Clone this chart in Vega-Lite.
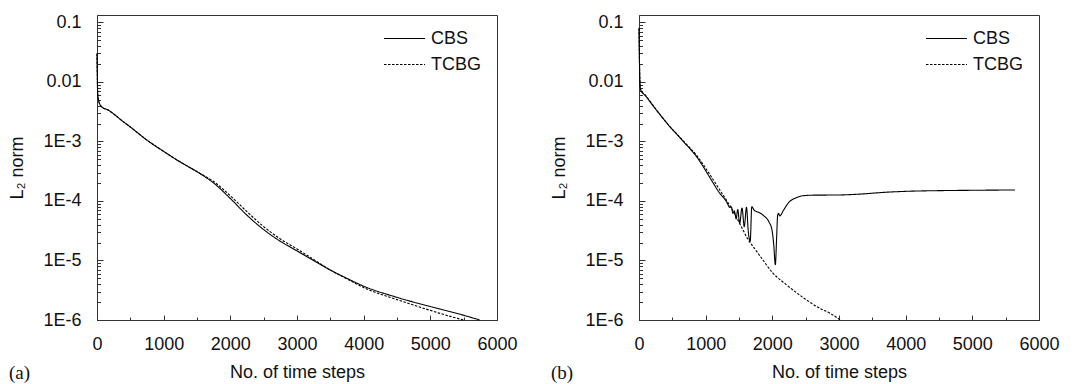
{
  "$schema": "https://vega.github.io/schema/vega-lite/v6.json",
  "padding": {"left": 8, "top": 12, "right": 5, "bottom": 2},
  "background": "white",
  "config": {
    "view": {"stroke": "#333", "strokeWidth": 1},
    "font": "Liberation Sans",
    "axis": {
      "grid": false,
      "domainColor": "#333",
      "tickColor": "#333",
      "ticks": true,
      "labelColor": "#111",
      "titleColor": "#111",
      "labelFont": "Liberation Sans",
      "titleFont": "Liberation Sans",
      "labelFontSize": 18,
      "titleFontSize": 18,
      "titleFontWeight": "normal",
      "labelOverlap": false,
      "labelFlush": false
    },
    "title": {"font": "Liberation Serif", "fontSize": 19, "fontWeight": "normal", "color": "#111"}
  },
  "datasets": {
    "a": [
      {"t": 0, "v": 0.03, "method": "CBS"}, {"t": 5, "v": 0.012, "method": "CBS"}, {"t": 10, "v": 0.0065, "method": "CBS"},
      {"t": 35, "v": 0.0044, "method": "CBS"}, {"t": 85, "v": 0.0037, "method": "CBS"}, {"t": 160, "v": 0.0034, "method": "CBS"},
      {"t": 250, "v": 0.0029, "method": "CBS"}, {"t": 360, "v": 0.0023, "method": "CBS"}, {"t": 500, "v": 0.00175, "method": "CBS"},
      {"t": 750, "v": 0.00105, "method": "CBS"}, {"t": 1000, "v": 0.00068, "method": "CBS"}, {"t": 1250, "v": 0.00045, "method": "CBS"},
      {"t": 1500, "v": 0.00031, "method": "CBS"}, {"t": 1750, "v": 0.0002, "method": "CBS"}, {"t": 2000, "v": 0.00011, "method": "CBS"},
      {"t": 2250, "v": 0.0000575, "method": "CBS"}, {"t": 2500, "v": 0.000033, "method": "CBS"}, {"t": 2750, "v": 0.000021, "method": "CBS"},
      {"t": 3000, "v": 0.0000145, "method": "CBS"}, {"t": 3250, "v": 0.00001, "method": "CBS"}, {"t": 3500, "v": 0.0000069, "method": "CBS"},
      {"t": 3750, "v": 0.000005, "method": "CBS"}, {"t": 4000, "v": 0.0000037, "method": "CBS"}, {"t": 4500, "v": 0.0000024, "method": "CBS"},
      {"t": 5000, "v": 0.00000168, "method": "CBS"}, {"t": 5500, "v": 0.0000012, "method": "CBS"}, {"t": 5740, "v": 0.000001, "method": "CBS"},
      {"t": 0, "v": 0.03, "method": "TCBG"}, {"t": 5, "v": 0.012, "method": "TCBG"}, {"t": 10, "v": 0.0065, "method": "TCBG"},
      {"t": 35, "v": 0.0044, "method": "TCBG"}, {"t": 85, "v": 0.0037, "method": "TCBG"}, {"t": 160, "v": 0.0034, "method": "TCBG"},
      {"t": 250, "v": 0.0029, "method": "TCBG"}, {"t": 360, "v": 0.0023, "method": "TCBG"}, {"t": 500, "v": 0.00175, "method": "TCBG"},
      {"t": 750, "v": 0.00105, "method": "TCBG"}, {"t": 1000, "v": 0.00068, "method": "TCBG"}, {"t": 1250, "v": 0.00045, "method": "TCBG"},
      {"t": 1500, "v": 0.00031, "method": "TCBG"}, {"t": 1750, "v": 0.000212, "method": "TCBG"}, {"t": 2000, "v": 0.000122, "method": "TCBG"},
      {"t": 2250, "v": 0.000066, "method": "TCBG"}, {"t": 2500, "v": 0.000037, "method": "TCBG"}, {"t": 2750, "v": 0.000023, "method": "TCBG"},
      {"t": 3000, "v": 0.0000156, "method": "TCBG"}, {"t": 3250, "v": 0.0000104, "method": "TCBG"}, {"t": 3500, "v": 0.0000069, "method": "TCBG"},
      {"t": 3750, "v": 0.0000049, "method": "TCBG"}, {"t": 4000, "v": 0.0000035, "method": "TCBG"}, {"t": 4500, "v": 0.0000022, "method": "TCBG"},
      {"t": 5000, "v": 0.00000145, "method": "TCBG"}, {"t": 5300, "v": 0.00000115, "method": "TCBG"}, {"t": 5500, "v": 0.000001, "method": "TCBG"}
    ],
    "b": [
      {"t": 0, "v": 0.08, "method": "CBS"}, {"t": 5, "v": 0.03, "method": "CBS"}, {"t": 15, "v": 0.0095, "method": "CBS"},
      {"t": 25, "v": 0.0073, "method": "CBS"}, {"t": 100, "v": 0.0058, "method": "CBS"}, {"t": 224, "v": 0.0038, "method": "CBS"},
      {"t": 423, "v": 0.002, "method": "CBS"}, {"t": 672, "v": 0.00098, "method": "CBS"}, {"t": 871, "v": 0.00054, "method": "CBS"},
      {"t": 1070, "v": 0.00024, "method": "CBS"}, {"t": 1200, "v": 0.00014, "method": "CBS"}, {"t": 1318, "v": 0.000095, "method": "CBS"},
      {"t": 1360, "v": 0.000078, "method": "CBS"}, {"t": 1385, "v": 0.00008, "method": "CBS"}, {"t": 1408, "v": 0.000062, "method": "CBS"},
      {"t": 1430, "v": 0.000068, "method": "CBS"}, {"t": 1457, "v": 0.00005, "method": "CBS"}, {"t": 1481, "v": 0.000072, "method": "CBS"},
      {"t": 1510, "v": 0.000042, "method": "CBS"}, {"t": 1545, "v": 0.000076, "method": "CBS"}, {"t": 1579, "v": 0.000037, "method": "CBS"},
      {"t": 1612, "v": 0.000078, "method": "CBS"}, {"t": 1640, "v": 0.00003, "method": "CBS"}, {"t": 1668, "v": 0.000021, "method": "CBS"},
      {"t": 1692, "v": 0.00008, "method": "CBS"}, {"t": 1727, "v": 0.00007, "method": "CBS"}, {"t": 1800, "v": 0.000064, "method": "CBS"},
      {"t": 1874, "v": 0.000056, "method": "CBS"}, {"t": 1947, "v": 0.000045, "method": "CBS"}, {"t": 1996, "v": 0.000032, "method": "CBS"},
      {"t": 2020, "v": 0.000019, "method": "CBS"}, {"t": 2045, "v": 0.0000085, "method": "CBS"}, {"t": 2065, "v": 0.000025, "method": "CBS"},
      {"t": 2080, "v": 0.000058, "method": "CBS"}, {"t": 2095, "v": 0.000062, "method": "CBS"}, {"t": 2110, "v": 0.000056, "method": "CBS"},
      {"t": 2168, "v": 0.00007, "method": "CBS"}, {"t": 2241, "v": 0.000093, "method": "CBS"}, {"t": 2350, "v": 0.000112, "method": "CBS"},
      {"t": 2450, "v": 0.000122, "method": "CBS"}, {"t": 2600, "v": 0.000125, "method": "CBS"}, {"t": 3000, "v": 0.000126, "method": "CBS"},
      {"t": 3300, "v": 0.00013, "method": "CBS"}, {"t": 3700, "v": 0.00014, "method": "CBS"}, {"t": 4000, "v": 0.000145, "method": "CBS"},
      {"t": 4500, "v": 0.000149, "method": "CBS"}, {"t": 5000, "v": 0.000151, "method": "CBS"}, {"t": 5640, "v": 0.000153, "method": "CBS"},
      {"t": 0, "v": 0.08, "method": "TCBG"}, {"t": 5, "v": 0.03, "method": "TCBG"}, {"t": 15, "v": 0.0095, "method": "TCBG"},
      {"t": 25, "v": 0.0075, "method": "TCBG"}, {"t": 100, "v": 0.0059, "method": "TCBG"}, {"t": 224, "v": 0.00385, "method": "TCBG"},
      {"t": 423, "v": 0.002, "method": "TCBG"}, {"t": 672, "v": 0.001, "method": "TCBG"}, {"t": 871, "v": 0.00057, "method": "TCBG"},
      {"t": 1070, "v": 0.00027, "method": "TCBG"}, {"t": 1200, "v": 0.00016, "method": "TCBG"}, {"t": 1318, "v": 0.0001, "method": "TCBG"},
      {"t": 1420, "v": 0.000065, "method": "TCBG"}, {"t": 1530, "v": 0.000038, "method": "TCBG"}, {"t": 1632, "v": 0.000023, "method": "TCBG"},
      {"t": 1750, "v": 0.000015, "method": "TCBG"}, {"t": 1850, "v": 0.0000105, "method": "TCBG"}, {"t": 2005, "v": 0.0000062, "method": "TCBG"},
      {"t": 2200, "v": 0.000004, "method": "TCBG"}, {"t": 2481, "v": 0.0000023, "method": "TCBG"}, {"t": 2700, "v": 0.0000016, "method": "TCBG"},
      {"t": 2865, "v": 0.0000013, "method": "TCBG"}, {"t": 3020, "v": 0.000001, "method": "TCBG"}
    ]
  },
  "spacing": 142,
  "bounds": "flush",
  "resolve": {"scale": {"strokeDash": "independent"}, "legend": {"strokeDash": "independent"}},
  "hconcat": [
    {
      "width": 400,
      "height": 305,
      "data": {"name": "a"},
      "title": {"text": "(a)", "orient": "bottom", "anchor": "start", "frame": "bounds", "offset": -17},
      "mark": {"type": "line", "color": "#000", "strokeWidth": 1.1, "interpolate": "monotone"},
      "encoding": {
        "x": {"field": "t", "type": "quantitative", "scale": {"domain": [0, 6000], "nice": false},
          "axis": {"title": "No. of time steps", "values": [0,500,1000,1500,2000,2500,3000,3500,4000,4500,5000,5500,6000], "format": "d",
            "labelExpr": "datum.value % 1000 == 0 ? datum.label : ''",
            "tickSize": {"condition": {"test": "datum.value % 1000 == 0", "value": -5}, "value": -3},
            "labelPadding": 20, "titlePadding": 8}},
        "y": {"field": "v", "type": "quantitative", "scale": {"type": "log", "domain": [0.000001, 0.133], "nice": false},
          "axis": {"title": "L₂ norm",
            "values": [0.000001,0.000002,0.000003,0.000004,0.000005,0.000006,0.000007,0.000008,0.000009,0.00001,0.00002,0.00003,0.00004,0.00005,0.00006,0.00007,0.00008,0.00009,0.0001,0.0002,0.0003,0.0004,0.0005,0.0006,0.0007,0.0008,0.0009,0.001,0.002,0.003,0.004,0.005,0.006,0.007,0.008,0.009,0.01,0.02,0.03,0.04,0.05,0.06,0.07,0.08,0.09,0.1],
            "labelExpr": "abs(log(datum.value)/LN10 - round(log(datum.value)/LN10)) < 0.000001 ? (datum.value > 0.005 ? '' + datum.value : '1E' + round(log(datum.value)/LN10)) : ''",
            "tickSize": {"condition": {"test": "abs(log(datum.value)/LN10 - round(log(datum.value)/LN10)) < 0.000001", "value": -6}, "value": -3.5},
            "labelPadding": 22, "titlePadding": 16}},
        "strokeDash": {"field": "method", "type": "nominal",
          "scale": {"domain": ["CBS", "TCBG"], "range": [[1, 0], [2.5, 1.5]]},
          "legend": {"title": null, "orient": "top-right", "offset": 15, "padding": 0, "symbolType": "stroke", "symbolSize": 1681,
            "symbolStrokeWidth": 1.1, "symbolStrokeColor": "#000", "labelFontSize": 18, "labelFont": "Liberation Sans", "labelColor": "#111",
            "labelOffset": 5, "clipHeight": 17, "rowPadding": 7}}
      }
    },
    {
      "width": 400,
      "height": 305,
      "data": {"name": "b"},
      "title": {"text": "(b)", "orient": "bottom", "anchor": "start", "frame": "bounds", "offset": -17},
      "mark": {"type": "line", "color": "#000", "strokeWidth": 1.1, "interpolate": "monotone"},
      "encoding": {
        "x": {"field": "t", "type": "quantitative", "scale": {"domain": [0, 6000], "nice": false},
          "axis": {"title": "No. of time steps", "values": [0,500,1000,1500,2000,2500,3000,3500,4000,4500,5000,5500,6000], "format": "d",
            "labelExpr": "datum.value % 1000 == 0 ? datum.label : ''",
            "tickSize": {"condition": {"test": "datum.value % 1000 == 0", "value": -5}, "value": -3},
            "labelPadding": 20, "titlePadding": 8}},
        "y": {"field": "v", "type": "quantitative", "scale": {"type": "log", "domain": [0.000001, 0.133], "nice": false},
          "axis": {"title": "L₂ norm",
            "values": [0.000001,0.000002,0.000003,0.000004,0.000005,0.000006,0.000007,0.000008,0.000009,0.00001,0.00002,0.00003,0.00004,0.00005,0.00006,0.00007,0.00008,0.00009,0.0001,0.0002,0.0003,0.0004,0.0005,0.0006,0.0007,0.0008,0.0009,0.001,0.002,0.003,0.004,0.005,0.006,0.007,0.008,0.009,0.01,0.02,0.03,0.04,0.05,0.06,0.07,0.08,0.09,0.1],
            "labelExpr": "abs(log(datum.value)/LN10 - round(log(datum.value)/LN10)) < 0.000001 ? (datum.value > 0.005 ? '' + datum.value : '1E' + round(log(datum.value)/LN10)) : ''",
            "tickSize": {"condition": {"test": "abs(log(datum.value)/LN10 - round(log(datum.value)/LN10)) < 0.000001", "value": -6}, "value": -3.5},
            "labelPadding": 22, "titlePadding": 16}},
        "strokeDash": {"field": "method", "type": "nominal",
          "scale": {"domain": ["CBS", "TCBG"], "range": [[1, 0], [2.5, 1.5]]},
          "legend": {"title": null, "orient": "top-right", "offset": 15, "padding": 0, "symbolType": "stroke", "symbolSize": 1681,
            "symbolStrokeWidth": 1.1, "symbolStrokeColor": "#000", "labelFontSize": 18, "labelFont": "Liberation Sans", "labelColor": "#111",
            "labelOffset": 5, "clipHeight": 17, "rowPadding": 7}}
      }
    }
  ]
}
